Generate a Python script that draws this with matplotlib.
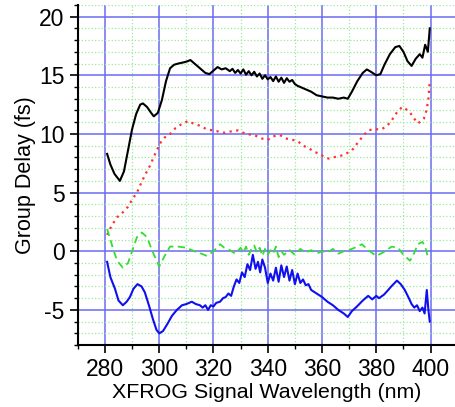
import matplotlib
matplotlib.use("Agg")
import matplotlib.pyplot as plt
from matplotlib.ticker import MultipleLocator

# traces: (wavelength nm, group delay fs)
black_pts = [(280.8, 8.3), (282, 7.4), (283.5, 6.6), (285.5, 6.0), (287, 6.8), (288.5, 8.6),
             (290, 10.4), (291.5, 11.7), (293, 12.5), (294, 12.6), (295.5, 12.3), (297, 11.8),
             (298, 11.5), (299.5, 11.8), (301, 12.9), (302.5, 14.5), (304, 15.6), (305.5, 15.9),
             (307, 16.0), (309, 16.1), (310.5, 16.2), (311.5, 16.3), (313, 16.0), (315, 15.6),
             (317, 15.2), (318.5, 15.1), (320, 15.4), (321.5, 15.7), (323, 15.5), (324.5, 15.6),
             (326, 15.35), (327, 15.55), (328, 15.2), (329, 15.45), (330, 15.15), (331, 15.5),
             (332, 15.05), (333, 15.35), (334, 15.0), (335, 15.3), (336, 14.9), (337, 15.15),
             (338, 14.7), (339, 15.0), (340, 14.65), (341, 14.85), (342, 14.5), (343, 14.9),
             (344, 14.45), (345, 14.8), (346, 14.35), (347, 14.75), (348, 14.45), (349, 14.6),
             (350, 14.25), (351, 14.1), (352, 14.0), (354, 13.8), (356, 13.6), (358, 13.3),
             (360, 13.2), (362, 13.1), (364, 13.1), (366, 13.0), (368, 13.1), (369.5, 13.0),
             (371, 13.6), (373, 14.5), (375, 15.2), (376.5, 15.5), (378, 15.3), (380, 15.0),
             (381.5, 15.1), (383, 15.9), (385, 16.8), (387, 17.4), (388.5, 17.5), (390, 17.0),
             (391.5, 16.2), (393, 15.8), (394.5, 16.4), (396, 16.8), (397, 16.5), (398, 17.6),
             (399, 17.0), (399.7, 19.0)]

red_pts = [(280.8, 1.4), (282.5, 2.2), (284.5, 2.9), (286.5, 3.3), (288.5, 3.8), (290, 4.4),
           (291.8, 5.0), (293.5, 5.9), (295, 6.6), (296.6, 7.3), (298.5, 8.3), (300.3, 9.2),
           (302, 9.7), (304, 10.0), (306, 10.5), (308, 10.8), (310.6, 11.1), (312.5, 10.9),
           (315, 10.7), (317.5, 10.4), (319.8, 10.3), (322, 10.2), (324, 10.1), (326, 10.2),
           (329, 10.3), (332, 10.0), (335, 9.9), (338, 9.6), (340, 9.5), (342, 9.8),
           (344.5, 9.9), (347, 9.6), (349, 9.5), (351, 9.4), (353, 9.0), (355, 8.8),
           (357, 8.5), (359, 8.3), (361, 8.0), (362.5, 7.9), (364, 8.0), (366, 8.1),
           (368, 8.2), (369.5, 8.4), (371, 8.6), (373, 9.2), (375, 9.8), (377, 10.3),
           (379, 10.4), (382, 10.4), (384, 10.7), (385.5, 11.1), (387.5, 11.8), (389.5, 12.3),
           (391, 12.1), (392.5, 11.8), (394, 11.3), (395.3, 10.9), (396.5, 11.1), (397.5, 11.3),
           (398.5, 12.0), (399.2, 13.0), (399.7, 14.5)]

green_pts = [(280.8, 1.9), (282, 1.0), (283, 0.2), (284.5, -0.8), (286.6, -1.4), (288.5, -1.0),
             (290, 0.0), (291.8, 1.2), (293.6, 1.6), (295.5, 1.2), (297.5, 0.0), (300, -1.3),
             (302, -0.4), (304, 0.4), (307, 0.4), (310, 0.3), (313, 0.0), (315.5, -0.2),
             (317.6, -0.4), (320, 0.0), (322.4, 0.6), (324, 0.3), (326, 0.1), (328, -0.2),
             (330, 0.3), (331, -0.1), (332, 0.4), (333, -0.3), (334, 0.2), (335, 0.5),
             (336, -0.1), (337, 0.3), (338, -0.4), (339, 0.2), (340, -0.3), (341, 0.1),
             (342, -0.2), (343, 0.4), (344, -0.5), (345, 0.0), (346, -0.3), (348, 0.1),
             (350, -0.3), (352, 0.2), (354, -0.1), (356, 0.1), (358, -0.2), (360, 0.0),
             (362, -0.1), (364, 0.2), (366, -0.2), (368, 0.0), (370, 0.1), (372, 0.3),
             (374.7, 0.6), (377, 0.1), (380, -0.4), (382.5, -0.1), (385.7, 0.4), (388, 0.3),
             (390, -0.3), (392.4, -0.8), (393.5, -0.4), (395.3, 0.6), (397, 0.8), (398, 0.4),
             (399, -0.5)]

blue_pts = [(280.8, -0.9), (282, -2.2), (283.7, -3.2), (285, -4.2), (286.6, -4.6), (288, -4.3),
            (289.2, -3.9), (290.5, -3.2), (292, -2.8), (293.5, -3.0), (294.7, -3.5), (296.2, -4.6),
            (297.7, -5.8), (299, -6.7), (300, -7.0), (301.4, -6.8), (303, -6.2), (304.7, -5.5),
            (306.5, -5.0), (308.4, -4.6), (310, -4.5), (312, -4.3), (313.5, -4.5), (315, -4.6),
            (316, -4.8), (317, -4.6), (318, -5.0), (319, -4.6), (320, -4.7), (321, -4.4),
            (322.4, -4.3), (323.5, -4.0), (324.5, -3.9), (325.5, -3.6), (326.5, -3.8), (327.5, -3.0),
            (328.5, -2.4), (329.5, -2.7), (330.5, -1.8), (331.5, -2.2), (332.5, -1.1), (333.5, -1.6),
            (334.5, -0.3), (335.5, -1.5), (336.4, -0.9), (337.2, -1.8), (338, -0.7), (339, -1.4),
            (340, -2.7), (341, -1.9), (342, -2.5), (343, -1.4), (344, -2.6), (345, -1.2),
            (346, -2.2), (347, -1.3), (348, -2.5), (349, -1.6), (350, -2.8), (351, -1.9),
            (352, -2.7), (353, -2.4), (354, -2.9), (355, -2.8), (356, -3.3), (358, -3.6),
            (360, -3.9), (362, -4.3), (364, -4.6), (366, -5.0), (368, -5.3), (369.5, -5.6),
            (371, -5.1), (372.9, -4.7), (375, -4.2), (377, -3.8), (378.5, -4.1), (380, -3.8),
            (381, -4.0), (382.8, -3.7), (384, -3.4), (385.5, -3.0), (387.6, -2.5), (389, -2.8),
            (390.5, -3.3), (392, -4.0), (393, -4.5), (394, -4.8), (395, -4.6), (396, -5.1),
            (397, -4.8), (397.8, -5.3), (398.6, -3.3), (399.2, -5.0), (399.7, -6.0)]

x_ticks = [280, 300, 320, 340, 360, 380, 400]
y_ticks = [-5, 0, 5, 10, 15, 20]

plt.rcParams['font.family'] = ['Liberation Sans', 'DejaVu Sans']
plt.rcParams['axes.unicode_minus'] = False

fig = plt.figure(figsize=(4.55, 4.07), dpi=100)
ax = fig.add_axes([0.171, 0.152, 0.829, 0.836])

# grid first so traces sit on top
ax.xaxis.set_minor_locator(MultipleLocator(10))
ax.yaxis.set_minor_locator(MultipleLocator(1))
ax.grid(True, which='minor', color='#9be89b', linestyle=':', linewidth=0.9)
ax.grid(True, which='major', color='#6b6bf0', linestyle='-', linewidth=1.1)
ax.set_axisbelow(True)

def split(pts):
    return [p[0] for p in pts], [p[1] for p in pts]

x, y = split(black_pts)
ax.plot(x, y, color='black', linewidth=1.5)
x, y = split(red_pts)
ax.plot(x, y, color='#ff3030', linestyle=(0, (1, 2)), linewidth=1.6)
x, y = split(green_pts)
ax.plot(x, y, color='#33dd33', linestyle=(0, (4, 2.5)), linewidth=1.3)
x, y = split(blue_pts)
ax.plot(x, y, color='#1010ee', linewidth=1.5)

ax.set_xlim(270, 409)
ax.set_ylim(-8, 21)
ax.set_xticks(x_ticks)
ax.set_yticks(y_ticks)

for side in ('top', 'right'):
    ax.spines[side].set_visible(False)
ax.spines['left'].set_linewidth(1.5)
ax.spines['bottom'].set_linewidth(1.5)

ax.tick_params(which='major', direction='out', length=6, width=1.2, labelsize=16.5)
ax.tick_params(which='minor', direction='out', length=3, width=1.0)

ax.set_xlabel("XFROG Signal Wavelength (nm)", fontsize=15.4, labelpad=1)
ax.set_ylabel("Group Delay (fs)", fontsize=15.5, labelpad=2)

fig.savefig("out.png", dpi=100)
